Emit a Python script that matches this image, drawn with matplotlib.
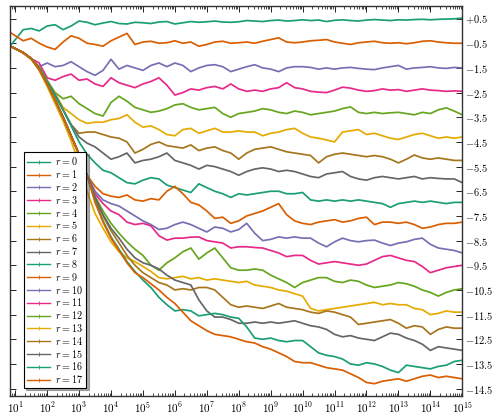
import numpy as np
import matplotlib
matplotlib.use('Agg')
import matplotlib.pyplot as plt
from matplotlib.lines import Line2D
from matplotlib.ticker import FixedLocator, LogLocator, FuncFormatter, NullFormatter

plt.rcParams['mathtext.fontset'] = 'cm'
plt.rcParams['font.family'] = 'serif'

# x positions: exponents of 10 (quarter-decade grid, first point at the left edge)
x_exp = [0.85] + list(np.arange(1.25, 15.01, 0.25))

# y values, one list per r
r0 = [-0.6, 0.05, 0.1, 0.0, 0.2, 0.25, 0.05, 0.2, 0.4, 0.35,
      0.25, 0.32, 0.38, 0.3, 0.28, 0.35, 0.33, 0.3, 0.36, 0.38,
      0.28, 0.33, 0.38, 0.35, 0.37, 0.4, 0.36, 0.35, 0.37, 0.42,
      0.4, 0.38, 0.42, 0.44, 0.4, 0.42, 0.45, 0.42, 0.44, 0.38,
      0.43, 0.45, 0.42, 0.4, 0.44, 0.46, 0.44, 0.42, 0.45, 0.44,
      0.46, 0.47, 0.45, 0.47, 0.48, 0.49, 0.52]
r1 = [-0.07, -0.4, -0.3, -0.5, -0.65, -0.75, -0.45, -0.2, -0.3, -0.5,
      -0.55, -0.62, -0.4, -0.25, -0.1, -0.55, -0.45, -0.42, -0.5, -0.48,
      -0.4, -0.5, -0.45, -0.62, -0.55, -0.45, -0.42, -0.5, -0.48, -0.45,
      -0.5, -0.42, -0.35, -0.28, -0.45, -0.48, -0.45, -0.4, -0.38, -0.35,
      -0.45, -0.5, -0.55, -0.48, -0.45, -0.42, -0.48, -0.5, -0.48, -0.52,
      -0.48, -0.42, -0.4, -0.45, -0.48, -0.5, -0.5]
r2 = [-0.62, -0.9, -1.15, -1.45, -1.3, -1.45, -1.4, -1.25, -1.45, -1.65,
      -1.8, -1.6, -1.15, -1.55, -1.4, -1.5, -1.6, -1.4, -1.3, -1.45,
      -1.3, -1.4, -1.65, -1.5, -1.4, -1.37, -1.45, -1.65, -1.55, -1.45,
      -1.37, -1.5, -1.55, -1.65, -1.5, -1.45, -1.45, -1.48, -1.55, -1.5,
      -1.55, -1.5, -1.48, -1.52, -1.55, -1.57, -1.5, -1.45, -1.4, -1.55,
      -1.5, -1.48, -1.45, -1.5, -1.52, -1.48, -1.5]
r3 = [-0.62, -0.88, -1.12, -1.3, -1.9, -2.0, -1.85, -1.75, -2.0, -1.95,
      -2.15, -2.25, -1.9, -2.1, -2.2, -2.3, -2.15, -2.05, -1.9, -2.2,
      -2.6, -2.5, -2.35, -2.4, -2.3, -2.25, -2.35, -2.15, -2.35, -2.45,
      -2.4, -2.45, -2.35, -2.3, -2.1, -2.3, -2.35, -2.45, -2.48, -2.5,
      -2.4, -2.28, -2.32, -2.4, -2.45, -2.42, -2.35, -2.4, -2.38, -2.45,
      -2.4, -2.35, -2.4, -2.42, -2.45, -2.43, -2.45]
r4 = [-0.62, -0.88, -1.12, -1.45, -2.0, -2.5, -2.75, -2.65, -2.95, -3.15,
      -3.35, -3.45, -2.9, -2.65, -2.85, -3.1, -3.2, -3.3, -3.25, -3.15,
      -3.0, -2.95, -3.1, -3.2, -3.15, -3.1, -3.35, -3.5, -3.35, -3.3,
      -3.25, -3.15, -3.2, -3.3, -3.35, -3.25, -3.3, -3.4, -3.35, -3.3,
      -3.25, -3.15, -3.08, -3.3, -3.35, -3.3, -3.35, -3.32, -3.3, -3.35,
      -3.4, -3.3, -3.35, -3.2, -3.12, -3.25, -3.4]
r5 = [-0.62, -0.88, -1.12, -1.5, -2.05, -2.55, -3.1, -3.35, -3.6, -3.75,
      -3.7, -3.7, -3.6, -3.55, -3.4, -3.7, -3.9, -3.85, -4.0, -4.2,
      -4.25, -4.0, -3.95, -4.15, -4.05, -3.95, -4.1, -4.1, -4.05, -4.1,
      -4.1, -4.25, -4.15, -4.1, -4.0, -3.95, -4.15, -4.3, -4.35, -4.42,
      -4.5, -4.1, -4.05, -4.0, -4.2, -4.15, -4.25, -4.35, -4.4, -4.3,
      -4.2, -4.15, -4.25, -4.35, -4.3, -4.35, -4.3]
r6 = [-0.62, -0.88, -1.12, -1.5, -2.05, -2.6, -3.2, -3.8, -4.15, -4.1,
      -4.1, -4.2, -4.3, -4.35, -4.5, -4.95, -4.8, -4.6, -4.5, -4.65,
      -4.7, -4.75, -4.62, -4.85, -4.75, -4.7, -4.85, -4.95, -5.2, -4.95,
      -4.8, -4.75, -4.7, -4.8, -4.9, -4.95, -5.0, -5.05, -5.35, -5.1,
      -5.0, -4.95, -5.0, -5.05, -5.1, -5.05, -5.1, -5.2, -5.35, -5.2,
      -5.03, -5.15, -5.2, -5.15, -5.2, -5.25, -5.25]
r7 = [-0.62, -0.88, -1.12, -1.5, -2.05, -2.6, -3.2, -3.8, -4.3, -4.55,
      -4.7, -4.95, -5.2, -5.1, -4.95, -5.35, -5.25, -5.2, -5.1, -4.95,
      -5.25, -5.35, -5.45, -5.6, -5.45, -5.5, -5.6, -5.7, -5.85, -5.7,
      -5.6, -5.55, -5.6, -5.7, -5.65, -5.7, -5.8, -5.9, -5.95, -5.8,
      -5.75, -5.7, -5.9, -6.0, -6.05, -5.95, -5.9, -5.95, -6.0, -5.95,
      -5.9, -6.0, -5.95, -5.98, -6.0, -6.0, -6.15]
r8 = [-0.62, -0.88, -1.12, -1.5, -2.05, -2.6, -3.2, -3.85, -4.5, -5.0,
      -5.35, -5.65, -5.75, -5.95, -6.15, -6.2, -6.05, -5.95, -6.0, -6.25,
      -6.35, -6.45, -6.55, -6.2, -6.35, -6.5, -6.6, -6.75, -6.6, -6.65,
      -6.6, -6.55, -6.5, -6.5, -6.6, -6.6, -6.55, -6.85, -6.9, -6.85,
      -6.9, -6.85, -6.9, -6.85, -6.9, -6.95, -7.0, -7.15, -7.0, -6.95,
      -6.9, -6.95, -6.9, -6.95, -7.0, -6.95, -6.95]
r9 = [-0.62, -0.88, -1.12, -1.55, -2.15, -2.8, -3.5, -4.25, -5.0, -5.85,
      -6.3, -6.6, -6.7, -6.75, -6.65, -6.85, -6.9, -6.8, -6.85, -6.5,
      -6.3, -6.6, -6.95, -7.05, -7.3, -7.6, -7.55, -7.8, -7.7, -7.5,
      -7.4, -7.3, -7.15, -7.0, -7.45, -7.7, -7.8, -7.85, -7.75, -7.7,
      -7.65, -7.75, -7.7, -7.6, -7.55, -7.85, -7.75, -7.75, -7.8, -7.75,
      -7.85, -8.0, -7.95, -7.85, -7.8, -7.8, -7.75]
r10 = [-0.62, -0.88, -1.12, -1.55, -2.15, -2.8, -3.5, -4.25, -5.0, -5.85,
       -6.5, -6.85, -7.0, -7.1, -7.3, -7.5, -7.7, -7.85, -8.05, -8.0,
       -7.85, -7.75, -7.85, -8.0, -8.15, -7.95, -8.0, -8.15, -8.05, -7.8,
       -8.2, -8.5, -8.45, -8.35, -8.4, -8.35, -8.4, -8.4, -8.6, -8.75,
       -8.55, -8.4, -8.5, -8.55, -8.5, -8.48, -8.6, -8.7, -8.6, -8.55,
       -8.45, -8.4, -8.65, -8.8, -8.85, -8.9, -9.0]
r11 = [-0.62, -0.88, -1.12, -1.55, -2.15, -2.8, -3.5, -4.25, -5.0, -5.85,
       -6.6, -7.0, -7.3, -7.45, -7.75, -7.85, -7.8, -7.9, -8.3, -8.48,
       -8.4, -8.4, -8.36, -8.35, -8.5, -8.55, -8.6, -8.8, -8.75, -8.75,
       -8.78, -8.8, -8.9, -9.0, -9.15, -9.1, -9.1, -9.3, -9.45, -9.4,
       -9.35, -9.4, -9.45, -9.5, -9.45, -9.3, -9.15, -9.1, -9.2, -9.3,
       -9.35, -9.55, -9.8, -9.7, -9.6, -9.55, -9.5]
r12 = [-0.62, -0.88, -1.12, -1.55, -2.15, -2.8, -3.5, -4.25, -5.0, -5.85,
       -6.7, -7.3, -7.8, -8.2, -8.55, -8.85, -9.1, -9.5, -9.7, -9.4,
       -9.2, -8.95, -8.8, -9.25, -9.0, -8.8, -9.2, -9.6, -9.7, -9.7,
       -9.65, -9.7, -9.9, -10.05, -10.2, -10.4, -10.2, -10.1, -10.0, -10.0,
       -10.15, -10.2, -10.1, -10.15, -10.3, -10.4, -10.35, -10.3, -10.2, -10.25,
       -10.35, -10.5, -10.6, -10.75, -10.6, -10.5, -10.45]
r13 = [-0.62, -0.9, -1.15, -1.6, -2.25, -2.95, -3.65, -4.45, -5.4, -6.5,
       -7.4, -8.0, -8.55, -8.95, -9.2, -9.35, -9.55, -9.75, -10.0, -10.05,
       -10.0, -9.95, -10.05, -10.0, -10.1, -10.05, -10.1, -10.15, -10.2, -10.15,
       -10.3, -10.35, -10.4, -10.5, -10.55, -10.65, -10.75, -11.25, -11.35, -11.3,
       -11.25, -11.2, -11.15, -11.1, -11.05, -11.0, -11.1, -11.05, -11.1, -11.1,
       -11.25, -11.3, -11.5, -11.45, -11.35, -11.4, -11.4]
r14 = [-0.62, -0.88, -1.12, -1.55, -2.15, -2.8, -3.5, -4.25, -5.0, -5.85,
       -6.8, -7.5, -8.1, -8.6, -9.1, -9.5, -9.8, -10.0, -10.2, -10.3,
       -10.5, -10.45, -10.5, -10.4, -10.4, -10.5, -10.8, -11.1, -11.2, -11.15,
       -11.2, -11.25, -11.15, -11.05, -11.2, -11.25, -11.3, -11.4, -11.45, -11.35,
       -11.4, -11.5, -11.6, -11.9, -11.85, -11.8, -11.75, -11.7, -11.85, -12.05,
       -11.95, -12.0, -12.3, -12.1, -12.0, -12.05, -12.05]
r15 = [-0.62, -0.88, -1.12, -1.55, -2.15, -2.8, -3.5, -4.25, -5.0, -5.85,
       -6.75, -7.45, -8.0, -8.4, -8.85, -9.2, -9.4, -9.5, -9.65, -9.9,
       -10.1, -10.2, -10.3, -10.9, -11.35, -11.6, -11.6, -11.7, -11.85, -11.85,
       -11.8, -11.85, -11.8, -11.85, -11.8, -11.75, -11.85, -11.95, -12.0, -12.1,
       -12.3, -12.4, -12.35, -12.45, -12.5, -12.55, -12.4, -12.25, -12.3, -12.45,
       -12.55, -12.7, -12.95, -12.8, -12.85, -12.9, -12.95]
r16 = [-0.62, -0.88, -1.12, -1.55, -2.15, -2.8, -3.5, -4.25, -5.0, -5.85,
       -6.9, -7.7, -8.35, -8.85, -9.35, -9.75, -10.1, -10.4, -10.8, -11.1,
       -11.35, -11.3, -11.35, -11.55, -11.5, -11.45, -11.5, -11.6, -11.65, -12.0,
       -12.45, -12.5, -12.45, -12.55, -12.6, -12.55, -12.55, -12.8, -13.05, -13.15,
       -13.2, -13.3, -13.5, -13.55, -13.45, -13.5, -13.6, -13.75, -13.85, -13.55,
       -13.6, -13.65, -13.7, -13.6, -13.55, -13.4, -13.35]
r17 = [-0.62, -0.88, -1.12, -1.55, -2.15, -2.8, -3.5, -4.25, -5.0, -5.85,
       -6.95, -7.75, -8.4, -8.9, -9.4, -9.8, -10.0, -10.25, -10.5, -10.8,
       -11.05, -11.4, -11.75, -11.95, -12.15, -12.3, -12.35, -12.4, -12.5, -12.6,
       -12.65, -12.8, -12.9, -13.05, -13.2, -13.4, -13.45, -13.45, -13.55, -13.65,
       -13.7, -13.75, -13.9, -14.05, -14.25, -14.3, -14.2, -14.15, -14.1, -14.2,
       -14.1, -14.0, -13.95, -14.05, -14.0, -14.05, -14.1]

series = [r0, r1, r2, r3, r4, r5, r6, r7, r8, r9,
          r10, r11, r12, r13, r14, r15, r16, r17]

colors = ['#1b9e77', '#d95f02', '#7570b3', '#e7298a',
          '#66a61e', '#e6ab02', '#a6761d', '#666666']

xtick_exp = list(range(1, 16))
ytick_vals = [0.5, -0.5, -1.5, -2.5, -3.5, -4.5, -5.5, -6.5, -7.5,
              -8.5, -9.5, -10.5, -11.5, -12.5, -13.5, -14.5]
ytick_labels = ['$+0.5$'] + ['$-%.1f$' % abs(v) for v in ytick_vals[1:]]

fig = plt.figure(figsize=(4.96, 4.16), dpi=100)
ax = fig.add_axes([0.021, 0.048, 0.911, 0.937])

x = 10.0 ** np.array(x_exp)
handles = []
for i, ys in enumerate(series):
    c = colors[i % len(colors)]
    ax.plot(x, ys, color=c, lw=1.25)
    handles.append(Line2D([], [], color=c, lw=1.0, marker='|', ms=2.5, mew=0.6,
                          label='$r = %d$' % i))

ax.set_xscale('log')
ax.set_xlim(10 ** 0.85, 10 ** 15)
ax.set_ylim(-14.8, 1.0)

ax.xaxis.set_major_locator(FixedLocator([10.0 ** e for e in xtick_exp]))
ax.xaxis.set_major_formatter(FuncFormatter(lambda v, p: '$10^{%d}$' % round(np.log10(v))))
ax.xaxis.set_minor_locator(LogLocator(base=10, subs=np.arange(2, 10), numticks=100))
ax.xaxis.set_minor_formatter(NullFormatter())

ax.set_yticks(ytick_vals)
ax.set_yticklabels(ytick_labels)

ax.tick_params(axis='x', which='both', direction='in', top=True, bottom=True,
               labelsize=8, pad=3)
ax.tick_params(axis='x', which='major', length=4, width=0.6)
ax.tick_params(axis='x', which='minor', length=2, width=0.5)
ax.tick_params(axis='y', which='both', direction='in', left=True, right=True,
               labelleft=False, labelright=True, labelsize=7.5, length=4,
               width=0.6, pad=2)

for sp in ax.spines.values():
    sp.set_color('#333333')
    sp.set_linewidth(1.0)

leg = ax.legend(handles=handles, loc='lower left', bbox_to_anchor=(0.03, 0.02),
                borderaxespad=0, fontsize=7.3, fancybox=False, edgecolor='black',
                framealpha=1, handlelength=2.3, labelspacing=0.08, borderpad=0.3,
                handletextpad=0.5, shadow={'ox': 1.5, 'oy': -1.5, 'color': '0.35'})
leg.get_frame().set_linewidth(0.8)

fig.savefig('out.png', dpi=100)
